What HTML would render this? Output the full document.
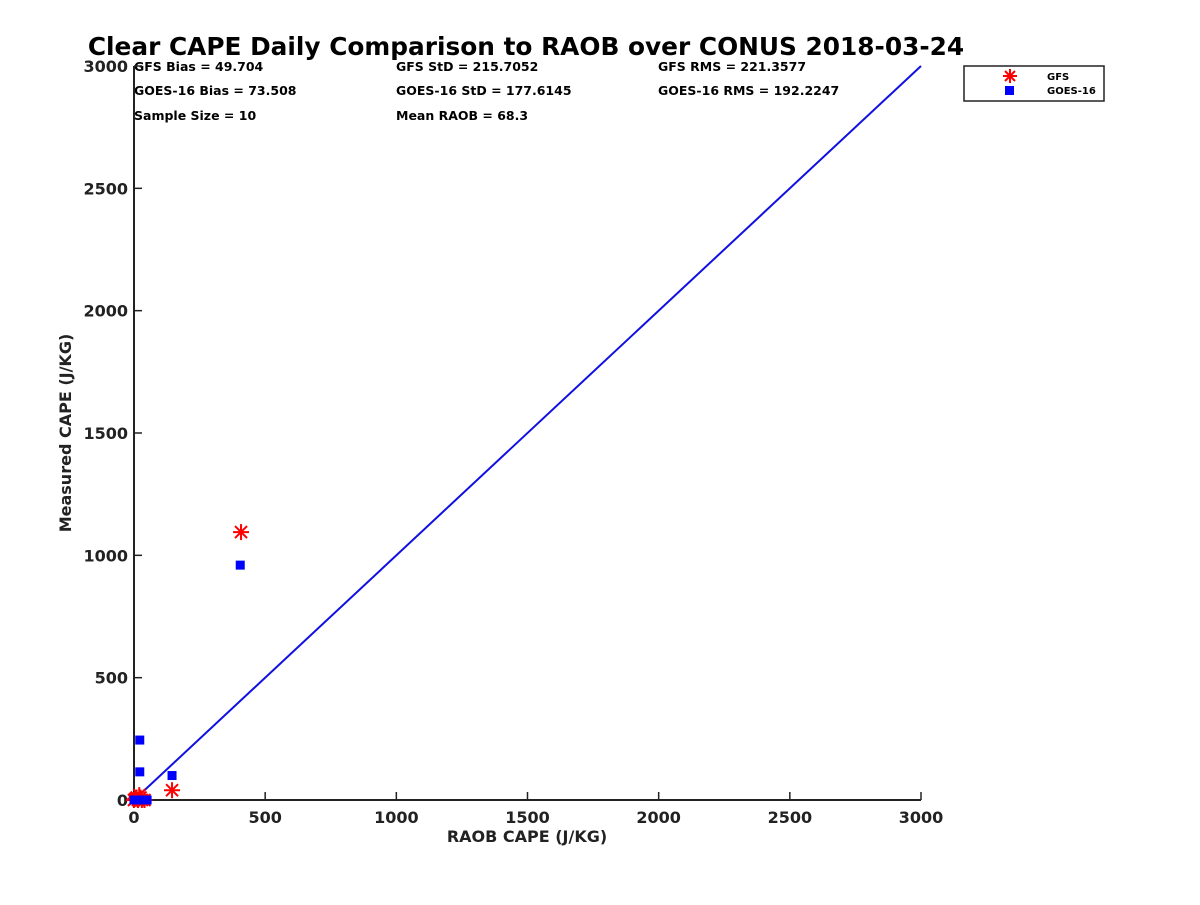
<!DOCTYPE html>
<html><head><meta charset="utf-8"><style>
body{margin:0;background:#fff;width:1200px;height:900px;overflow:hidden}
text{font-family:"DejaVu Sans","Liberation Sans",sans-serif;font-weight:bold;fill:#222}
</style></head><body>
<svg id="chart" width="1200" height="900">
<text x="526" y="55" text-anchor="middle" font-size="24.8" style="fill:#000">Clear CAPE Daily Comparison to RAOB over CONUS 2018-03-24</text>
<g id="stats" font-size="12.5">
<text x="134" y="71" style="fill:#000">GFS Bias = 49.704</text>
<text x="134" y="95" style="fill:#000">GOES-16 Bias = 73.508</text>
<text x="134" y="120" style="fill:#000">Sample Size = 10</text>
<text x="396" y="71" style="fill:#000">GFS StD = 215.7052</text>
<text x="396" y="95" style="fill:#000">GOES-16 StD = 177.6145</text>
<text x="396" y="120" style="fill:#000">Mean RAOB = 68.3</text>
<text x="658" y="71" style="fill:#000">GFS RMS = 221.3577</text>
<text x="658" y="95" style="fill:#000">GOES-16 RMS = 192.2247</text>
</g>
<g>
<rect x="964" y="66" width="140" height="35" fill="#fff" stroke="#222" stroke-width="1.5"/>
<g>
<g stroke="red" stroke-width="2"><line x1="1010" y1="69" x2="1010" y2="83"/><line x1="1003" y1="76" x2="1017" y2="76"/><line x1="1005" y1="71" x2="1015" y2="81"/><line x1="1015" y1="71" x2="1005" y2="81"/></g>
<text x="1047" y="80" font-size="10" style="fill:#000">GFS</text></g>
<g>
<rect x="1005" y="86" width="9" height="9" fill="blue"/>
<text x="1047" y="94" font-size="10" style="fill:#000">GOES-16</text></g>
</g>
<g id="axes"></g>
<g id="marks"></g>
<text x="527" y="842" text-anchor="middle" font-size="16">RAOB CAPE (J/KG)</text>
<text transform="translate(71,433) rotate(-90)" text-anchor="middle" font-size="16">Measured CAPE (J/KG)</text>
</svg>
<script>
const ticks=[0,500,1000,1500,2000,2500,3000];
const oneToOne=[0,3000];
const gfsX=[408,145,0,10,20,30,40,5,15,25];
const gfsY=[1095,40,0,10,20,0,0,5,0,10];
const goesX=[405,22,22,145,0,10,20,30,40,50];
const goesY=[960,245,115,100,0,0,0,0,0,0];
const X0=134,X1=921,Y0=800,Y1=66;
const sx=v=>X0+(v/3000)*(X1-X0), sy=v=>Y0-(v/3000)*(Y0-Y1);
const NS="http://www.w3.org/2000/svg";
function mk(tag,attrs,parent){const e=document.createElementNS(NS,tag);for(const k in attrs)e.setAttribute(k,attrs[k]);parent.appendChild(e);return e;}
const ax=document.getElementById('axes'), mg=document.getElementById('marks');
let e=mk('line',{x1:X0,y1:Y1,x2:X0,y2:Y0,stroke:'#222','stroke-width':2},ax);


e=mk('line',{x1:X0,y1:Y0,x2:X1,y2:Y0,stroke:'#222','stroke-width':2},ax);


ticks.forEach(t=>{
 mk('line',{x1:X0,y1:sy(t),x2:X0+8,y2:sy(t),stroke:'#222','stroke-width':1.5},ax);
 mk('line',{x1:sx(t),y1:Y0,x2:sx(t),y2:Y0-8,stroke:'#222','stroke-width':1.5},ax);
 let l=mk('text',{x:X0-6,y:sy(t)+6,'text-anchor':'end','font-size':16},ax);l.textContent=t;
 
 
 l=mk('text',{x:sx(t),y:Y0+23,'text-anchor':'middle','font-size':16},ax);l.textContent=t;
 
 
});
e=mk('line',{x1:sx(oneToOne[0]),y1:sy(oneToOne[0]),x2:sx(oneToOne[1]),y2:sy(oneToOne[1]),stroke:'#1010e0','stroke-width':2},mg);


gfsX.forEach((x,i)=>{
 const cx=sx(x),cy=sy(gfsY[i]);
 const g=mk('g',{stroke:'red','stroke-width':2},mg);
 
 
 mk('line',{x1:cx,y1:cy-8,x2:cx,y2:cy+8},g);
 mk('line',{x1:cx-8,y1:cy,x2:cx+8,y2:cy},g);
 mk('line',{x1:cx-6,y1:cy-6,x2:cx+6,y2:cy+6},g);
 mk('line',{x1:cx+6,y1:cy-6,x2:cx-6,y2:cy+6},g);
});
goesX.forEach((x,i)=>{
 const r=mk('rect',{x:sx(x)-4.5,y:sy(goesY[i])-4.5,width:9,height:9,fill:'blue'},mg);
 
 
});
</script>
</body></html>
